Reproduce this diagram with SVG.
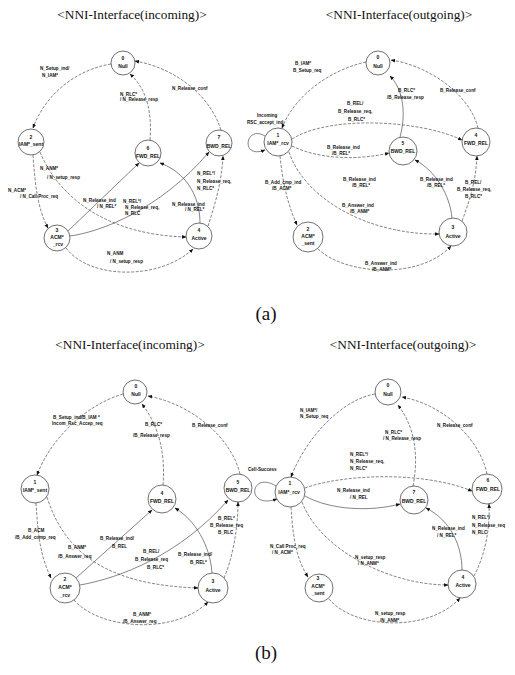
<svg xmlns="http://www.w3.org/2000/svg" width="515" height="675" viewBox="0 0 515 675">
<style>
  .bg{fill:#fff}
  .node circle{fill:#fff;stroke:#333;stroke-width:0.7}
  .node text{font-family:"Liberation Sans",Arial,sans-serif;font-weight:bold;font-size:5px;text-anchor:middle;fill:#111}
  .conn path{fill:none;stroke:#333;stroke-width:0.6;marker-end:url(#ah)}
  .conn path.d{stroke-dasharray:3 1.5}
  .lbl text{font-family:"Liberation Sans",Arial,sans-serif;font-weight:bold;font-size:4.6px;fill:#111}
  .title{font-family:"Liberation Serif","Times New Roman",serif;font-size:13.3px;text-anchor:middle;fill:#111}
  .cap{font-family:"Liberation Serif","Times New Roman",serif;font-size:19px;text-anchor:middle;fill:#111}
</style>
<defs>
  <marker id="ah" viewBox="0 0 10 10" refX="9" refY="5" markerWidth="4.5" markerHeight="4.5" markerUnits="userSpaceOnUse" orient="auto">
    <path d="M0,1 L10,5 L0,9 z" fill="#111"/>
  </marker>
</defs>
<rect class="bg" width="515" height="675"/>

<!-- ===== (a) incoming ===== -->
<text class="title" x="132" y="19">&lt;NNI-Interface(incoming)&gt;</text>
<g class="conn" id="a-in-connectors">
  <path class="d" d="M111,64 C75,70 45,95 33,128"/>
  <path class="d" d="M221,130 C210,95 175,68 135,61"/>
  <path class="d" d="M150,140 C152,115 148,90 130,74"/>
  <path class="d" d="M33,155 C35,185 38,210 48,228"/>
  <path class="d" d="M40,152 C60,200 110,235 186,237"/>
  <path d="M68,231 L139,163"/>
  <path d="M70,236 C100,232 160,210 209,152"/>
  <path d="M200,223 C200,195 185,172 160,163"/>
  <path class="d" d="M208,226 C215,205 222,180 223,156"/>
  <path class="d" d="M66,248 C90,280 160,280 193,249"/>
</g>
<g id="a-in-n0" class="node"><circle cx="123" cy="63" r="12"/><text x="123" y="60">0</text><text x="123" y="68">Null</text></g>
<g id="a-in-n2" class="node"><circle cx="31" cy="142" r="13"/><text x="31" y="139">2</text><text x="31" y="146">IAM*_sent</text></g>
<g id="a-in-n6" class="node"><circle cx="148" cy="153" r="13"/><text x="148" y="150">6</text><text x="148" y="158">FWD_REL</text></g>
<g id="a-in-n7" class="node"><circle cx="219" cy="143" r="13"/><text x="219" y="139">7</text><text x="219" y="148">BWD_REL</text></g>
<g id="a-in-n3" class="node"><circle cx="57" cy="238" r="13"/><text x="57" y="232">3</text><text x="57" y="239">ACM*</text><text x="58" y="246">_rcv</text></g>
<g id="a-in-n4" class="node"><circle cx="199" cy="236" r="13"/><text x="199" y="232">4</text><text x="199" y="240">Active</text></g>
<g class="lbl" id="a-in-labels">
  <text x="40" y="70">N_Setup_ind/</text><text x="42" y="77">N_IAM*</text>
  <text x="120" y="96">N_RLC*</text><text x="120" y="101">/ N_Release_resp</text>
  <text x="172" y="90">N_Release_conf</text>
  <text x="40" y="170">N_ANM*</text><text x="47" y="179">/ N_setup_resp</text>
  <text x="8" y="192">N_ACM*</text><text x="20" y="198">/ N_Call Proc_req</text>
  <text x="83" y="202">N_Release_ind</text><text x="97" y="208">/ N_REL*</text>
  <text x="123" y="203">N_REL*/</text><text x="125" y="209">N_Release_req,</text><text x="125" y="215">N_RLC</text>
  <text x="197" y="175">N_REL*/</text><text x="197" y="183">N_Release_req,</text><text x="197" y="190">N_RLC*</text>
  <text x="172" y="206">N_Release_ind</text><text x="185" y="211">/ N_REL*</text>
  <text x="107" y="255">N_ANM</text><text x="110" y="263">/ N_setup_resp</text>
</g>

<!-- ===== (a) outgoing ===== -->
<text class="title" x="399" y="19">&lt;NNI-Interface(outgoing)&gt;</text>
<g class="conn" id="a-out-connectors">
  <path d="M265,136 C245,124 240,160 265,150"/>
  <path class="d" d="M366,62 C330,70 295,95 282,128"/>
  <path class="d" d="M478,128 C470,95 430,66 391,60"/>
  <path d="M400,137 C406,115 404,90 390,76"/>
  <path class="d" d="M292,139 C330,115 420,120 462,140"/>
  <path class="d" d="M292,146 C320,160 360,160 389,153"/>
  <path class="d" d="M280,156 C283,185 288,205 297,225"/>
  <path class="d" d="M289,152 C305,200 370,235 439,234"/>
  <path class="d" d="M318,249 C345,275 420,280 451,246"/>
  <path d="M452,218 C450,195 435,170 415,160"/>
  <path class="d" d="M462,221 C470,200 476,180 477,156"/>
</g>
<g id="a-out-n0" class="node"><circle cx="378" cy="63" r="12"/><text x="378" y="59">0</text><text x="378" y="68">Null</text></g>
<g id="a-out-n1" class="node"><circle cx="278" cy="142" r="14"/><text x="278" y="137">1</text><text x="278" y="145">IAM*_rcv</text></g>
<g id="a-out-n5" class="node"><circle cx="403" cy="151" r="14"/><text x="403" y="145">5</text><text x="403" y="153">BWD_REL</text></g>
<g id="a-out-n4" class="node"><circle cx="476" cy="142" r="14"/><text x="476" y="137">4</text><text x="476" y="145">FWD_REL</text></g>
<g id="a-out-n2" class="node"><circle cx="308" cy="237" r="15"/><text x="308" y="231">2</text><text x="308" y="238">ACM*</text><text x="308" y="245">_sent</text></g>
<g id="a-out-n3" class="node"><circle cx="453" cy="232" r="14"/><text x="453" y="229">3</text><text x="453" y="238">Active</text></g>
<g class="lbl" id="a-out-labels">
  <text x="257" y="117">Incoming</text><text x="247" y="124">RSC_accept_ind</text>
  <text x="295" y="65">B_IAM*</text><text x="293" y="72">B_Setup_req</text>
  <text x="398" y="92">B_RLC*</text><text x="387" y="99">/B_Release_resp</text>
  <text x="440" y="92">B_Release_conf</text>
  <text x="347" y="105">B_REL/</text><text x="338" y="113">B_Release_req,</text><text x="348" y="121">B_RLC*</text>
  <text x="327" y="149">B_Release_ind</text><text x="332" y="155">/B_REL*</text>
  <text x="265" y="184">B_Add_cmp_ind</text><text x="272" y="190">/B_ACM*</text>
  <text x="343" y="181">B_Release_ind</text><text x="352" y="187">/B_REL*</text>
  <text x="342" y="207">B_Answer_ind</text><text x="350" y="213">/B_ANM*</text>
  <text x="420" y="181">B_Release_ind</text><text x="427" y="187">/B_REL*</text>
  <text x="465" y="184">B_REL/</text><text x="457" y="191">B_Release_req,</text><text x="465" y="198">B_RLC*</text>
  <text x="365" y="265">B_Answer_ind</text><text x="372" y="271">/B_ANM*</text>
</g>
<text class="cap" x="266" y="320">(a)</text>

<!-- ===== (b) incoming ===== -->
<text class="title" x="130" y="349">&lt;NNI-Interface(incoming)&gt;</text>
<g class="conn" id="b-in-connectors">
  <path class="d" d="M123,394 C85,405 50,440 37,475"/>
  <path class="d" d="M240,474 C232,440 195,405 148,396"/>
  <path class="d" d="M163,485 C165,460 162,430 142,404"/>
  <path class="d" d="M36,503 C38,535 40,555 51,578"/>
  <path class="d" d="M47,497 C65,555 110,585 198,588"/>
  <path d="M76,578 L152,510"/>
  <path d="M80,585 C120,578 180,555 228,500"/>
  <path d="M212,573 C210,545 195,520 175,508"/>
  <path class="d" d="M224,578 C232,560 238,530 238,502"/>
  <path class="d" d="M74,600 C100,630 175,635 208,602"/>
</g>
<g id="b-in-n0" class="node"><circle cx="135" cy="392" r="12"/><text x="136" y="388">0</text><text x="136" y="396">Null</text></g>
<g id="b-in-n1" class="node"><circle cx="35" cy="489" r="14"/><text x="35" y="484">1</text><text x="35" y="492">IAM*_sent</text></g>
<g id="b-in-n4" class="node"><circle cx="162" cy="499" r="14"/><text x="162" y="495">4</text><text x="162" y="503">FWD_REL</text></g>
<g id="b-in-n5" class="node"><circle cx="238" cy="488" r="14"/><text x="238" y="484">5</text><text x="238" y="492">BWD_REL</text></g>
<g id="b-in-n2" class="node"><circle cx="65" cy="588" r="15"/><text x="65" y="581">2</text><text x="65" y="589">ACM*</text><text x="65" y="597">_rcv</text></g>
<g id="b-in-n3" class="node"><circle cx="213" cy="588" r="15"/><text x="213" y="583">3</text><text x="213" y="592">Active</text></g>
<g class="lbl" id="b-in-labels">
  <text x="53" y="419">B_Setup_ind/B_IAM *</text><text x="52" y="425">Incom_Rsc_Accep_req</text>
  <text x="145" y="426">B_RLC*</text><text x="133" y="437">/B_Release_resp</text>
  <text x="192" y="427">B_Release_conf</text>
  <text x="28" y="532">B_ACM</text><text x="15" y="539">/B_Add_comp_req</text>
  <text x="68" y="549">B_ANM*</text><text x="58" y="558">/B_Answer_req</text>
  <text x="100" y="540">B_Release_ind/</text><text x="112" y="548">B_REL</text>
  <text x="218" y="520">B_REL*</text><text x="210" y="527">B_Release_req</text><text x="218" y="534">B_RLC</text>
  <text x="143" y="553">B_REL/</text><text x="135" y="561">B_Release_req</text><text x="147" y="569">B_RLC*</text>
  <text x="178" y="556">B_Release_ind/</text><text x="190" y="564">B_REL*</text>
  <text x="133" y="616">B_ANM*</text><text x="123" y="623">/B_Answer_req</text>
</g>

<!-- ===== (b) outgoing ===== -->
<text class="title" x="403" y="349">&lt;NNI-Interface(outgoing)&gt;</text>
<g class="conn" id="b-out-connectors">
  <path d="M276,486 C250,470 245,510 277,499"/>
  <path class="d" d="M375,394 C340,400 305,440 291,477"/>
  <path class="d" d="M487,474 C480,440 445,405 402,397"/>
  <path class="d" d="M413,486 C418,460 417,430 398,405"/>
  <path class="d" d="M305,488 C340,475 420,470 472,491"/>
  <path d="M305,496 C330,510 370,512 400,504"/>
  <path class="d" d="M291,507 C293,540 297,560 308,577"/>
  <path class="d" d="M302,502 C320,550 390,585 448,585"/>
  <path d="M462,570 C462,545 450,520 426,508"/>
  <path class="d" d="M474,576 C485,555 490,530 489,504"/>
  <path class="d" d="M329,599 C355,630 430,632 460,598"/>
</g>
<g id="b-out-n0" class="node"><circle cx="388" cy="392" r="13"/><text x="388" y="387">0</text><text x="388" y="396">Null</text></g>
<g id="b-out-n1" class="node"><circle cx="290" cy="492" r="15"/><text x="290" y="485">1</text><text x="289" y="494">IAM*_rcv</text></g>
<g id="b-out-n7" class="node"><circle cx="414" cy="500" r="14"/><text x="414" y="494">7</text><text x="414" y="503">BWD_REL</text></g>
<g id="b-out-n6" class="node"><circle cx="487" cy="489" r="15"/><text x="488" y="482">6</text><text x="488" y="491">FWD_REL</text></g>
<g id="b-out-n3" class="node"><circle cx="319" cy="588" r="14"/><text x="318" y="580">3</text><text x="318" y="588">ACM*</text><text x="318" y="595">_sent</text></g>
<g id="b-out-n4" class="node"><circle cx="462" cy="584" r="14"/><text x="463" y="579">4</text><text x="463" y="587">Active</text></g>
<g class="lbl" id="b-out-labels">
  <text x="248" y="471">Cell-Success</text>
  <text x="300" y="412">N_IAM*/</text><text x="300" y="418">N_Setup_req</text>
  <text x="385" y="434">N_RLC*</text><text x="383" y="440">/ N_Release_resp</text>
  <text x="437" y="427">N_Release_conf</text>
  <text x="350" y="456">N_REL*/</text><text x="350" y="463">N_Release_req,</text><text x="350" y="470">N_RLC*</text>
  <text x="337" y="492">N_Release_ind</text><text x="350" y="499">/ N_REL</text>
  <text x="432" y="530">N_Release_ind</text><text x="437" y="537">/ N_REL*</text>
  <text x="472" y="519">N_REL*/</text><text x="472" y="527">N_Release_req</text><text x="472" y="534">N_RLC</text>
  <text x="270" y="548">N_Call Proc_req</text><text x="272" y="554">/ N_ACM*</text>
  <text x="355" y="559">N_setup_resp</text><text x="358" y="565">/ N_ANM*</text>
  <text x="375" y="615">N_setup_resp</text><text x="380" y="622">/N_ANM*</text>
</g>
<text class="cap" x="266" y="659">(b)</text>
</svg>
